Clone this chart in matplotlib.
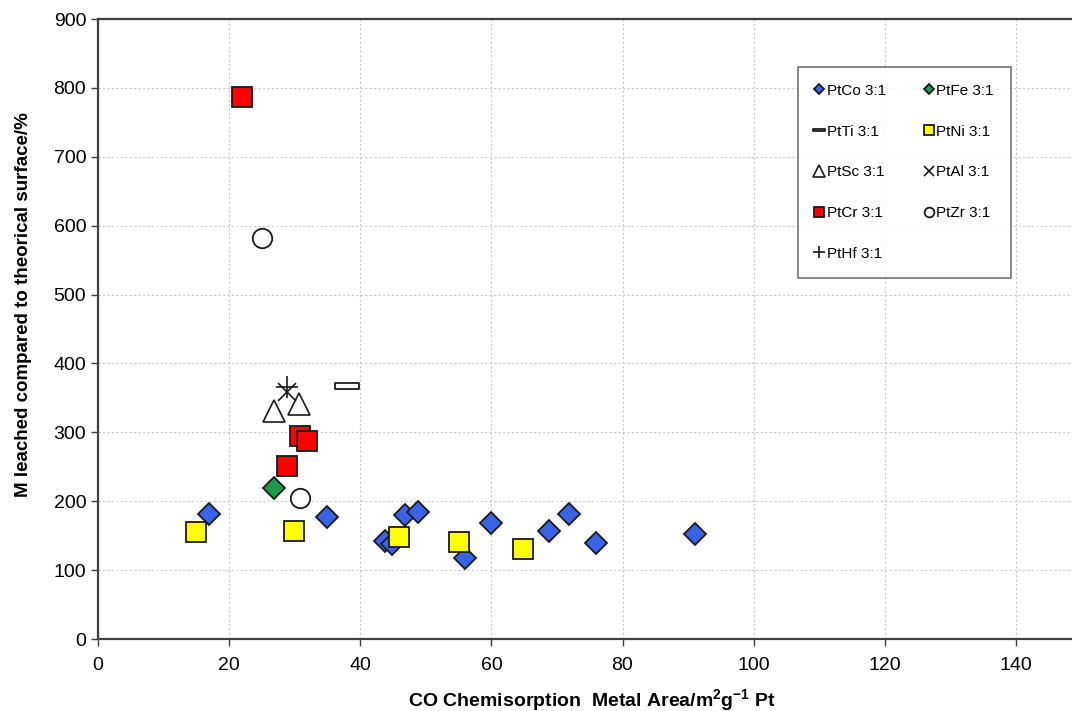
import matplotlib
matplotlib.use("Agg")
import matplotlib.pyplot as plt
from matplotlib.path import Path

plt.rcParams["font.family"] = ["Liberation Sans", "DejaVu Sans"]
plt.rcParams["mathtext.fontset"] = "custom"
plt.rcParams["mathtext.rm"] = "Liberation Sans"
plt.rcParams["mathtext.bf"] = "Liberation Sans:bold"

# data (x = CO metal area m2/g Pt, y = % leached)
co_x = [17, 35, 43.8, 44.8, 46.8, 48.8, 56, 60, 68.8, 71.8, 75.9, 91]
co_y = [181, 177, 142, 138, 180, 184, 118, 168, 157, 181, 139, 152]
fe_x = [26.8]
fe_y = [219]
ti_x = [38]
ti_y = [367]
ni_x = [15, 29.9, 45.9, 55, 64.8]
ni_y = [155, 157, 148, 141, 130]
sc_x = [26.8, 30.7]
sc_y = [331, 341]
al_x = [28.8]
al_y = [358]
cr_x = [22, 30.8, 31.9, 28.8]
cr_y = [787, 295, 287, 251]
zr_x = [25, 30.8]
zr_y = [582, 205]
hf_x = [28.8]
hf_y = [366]

x_ticks = [0, 20, 40, 60, 80, 100, 120, 140]
y_ticks = [0, 100, 200, 300, 400, 500, 600, 700, 800, 900]

dash_marker = Path([(-1, -0.22), (1, -0.22), (1, 0.22), (-1, 0.22), (-1, -0.22)],
                   [Path.MOVETO, Path.LINETO, Path.LINETO, Path.LINETO, Path.CLOSEPOLY])

fig = plt.figure(figsize=(10.72, 7.11), dpi=100)
ax = fig.add_axes([98 / 1072, 1 - 639 / 711, 1049 / 1072, 620 / 711])

edge = "#1a1a1a"
h = {}
h["co"], = ax.plot(co_x, co_y, ls="none", marker="D", ms=11, mfc="#3a64e8", mec=edge, mew=1.3, label="PtCo 3:1", zorder=3)
h["fe"], = ax.plot(fe_x, fe_y, ls="none", marker="D", ms=11, mfc="#1c9a4c", mec=edge, mew=1.3, label="PtFe 3:1", zorder=3)
h["ti"], = ax.plot(ti_x, ti_y, ls="none", marker=dash_marker, ms=17, mfc="white", mec=edge, mew=1.3, label="PtTi 3:1", zorder=3)
h["ni"], = ax.plot(ni_x, ni_y, ls="none", marker="s", ms=14, mfc="#ffff00", mec=edge, mew=1.3, label="PtNi 3:1", zorder=3)
h["sc"], = ax.plot(sc_x, sc_y, ls="none", marker="^", ms=16, mfc="white", mec=edge, mew=1.2, label="PtSc 3:1", zorder=3)
h["al"], = ax.plot(al_x, al_y, ls="none", marker="x", ms=13, mec=edge, mew=1.2, label="PtAl 3:1", zorder=3)
h["cr"], = ax.plot(cr_x, cr_y, ls="none", marker="s", ms=14, mfc="#ff0000", mec=edge, mew=1.3, label="PtCr 3:1", zorder=3)
h["zr"], = ax.plot(zr_x, zr_y, ls="none", marker="o", ms=14, mfc="white", mec=edge, mew=1.3, label="PtZr 3:1", zorder=3)
h["hf"], = ax.plot(hf_x, hf_y, ls="none", marker="+", ms=16, mec=edge, mew=1.2, label="PtHf 3:1", zorder=3)

ax.set_xlim(0, 160)
ax.set_ylim(0, 900)
ax.set_xticks(x_ticks)
ax.set_yticks(y_ticks)
ax.grid(True, color="#c8c8c8", ls=(0, (2, 2)), lw=0.8)
ax.set_axisbelow(True)
for s in ["left", "bottom", "top"]:
    ax.spines[s].set_color("#404040")
    ax.spines[s].set_linewidth(1.6)
ax.spines["right"].set_visible(False)
ax.tick_params(axis="both", labelsize=14, color="#404040", direction="out", length=5, width=1)
ax.tick_params(axis="x", pad=8)

ax.set_xlabel(r"CO Chemisorption  Metal Area/m$\mathbf{^2}$g$\mathbf{^{-1}}$ Pt",
              fontsize=14, fontweight="bold", va="baseline")
ax.xaxis.set_label_coords(0.471, -0.108)
ax.set_ylabel("M leached compared to theorical surface/%", fontsize=13.5, fontweight="bold",
              va="baseline")
ax.yaxis.set_label_coords(-0.0667, 0.539)

order = ["co", "ti", "sc", "cr", "hf", "fe", "ni", "al", "zr"]
leg = ax.legend([h[k] for k in order], [h[k].get_label() for k in order],
                ncol=2, loc="upper left", bbox_to_anchor=(0.667, 0.9226),
                fontsize=11, markerscale=0.5, handlelength=0.6, handletextpad=0.2,
                columnspacing=2.5, labelspacing=1.75, borderpad=1.1, borderaxespad=0,
                frameon=True, fancybox=False, edgecolor="#505050")
leg.get_frame().set_linewidth(1.2)

fig.savefig("out.png", dpi=100)
